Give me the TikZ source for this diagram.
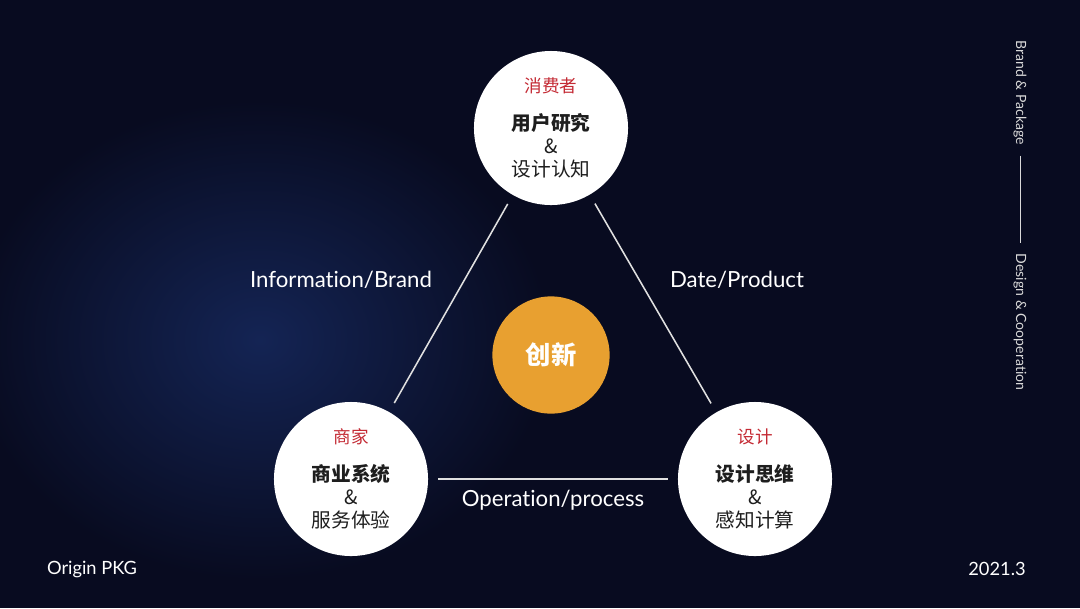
\documentclass[tikz,border=0pt]{standalone}
\usepackage{fontspec}
\setmainfont[Ligatures=NoCommon]{Lato}
\newfontfamily\cjk{Noto Sans CJK SC}
\usetikzlibrary{positioning}
\definecolor{bgnavy}{RGB}{8,11,32}
\definecolor{glow}{RGB}{20,36,84}
\definecolor{redtxt}{RGB}{196,42,52}
\definecolor{orng}{RGB}{232,160,48}
\definecolor{ink}{RGB}{30,30,30}
\newcommand{\role}[1]{{\color{redtxt}\fontsize{12.5}{15}\selectfont #1}\\[10pt]}

\begin{document}
\begin{tikzpicture}[x=0.025cm,y=-0.025cm,semithick]
 \tikzstyle{vert}=[circle, fill=white, inner sep=0pt, minimum size=3.85cm, align=center, text=ink,
   font=\cjk\fontsize{14}{16.5}\selectfont]
 \tikzstyle{core}=[circle, fill=orng, inner sep=0pt, minimum size=2.93cm, text=white,
   font=\cjk\bfseries\fontsize{18}{20}\selectfont]
 \tikzstyle{link}=[draw=white!88!black, line width=1.1pt, shorten >=10*0.025cm, shorten <=10*0.025cm]
 \tikzstyle{lbl}=[text=white, font=\fontsize{15.8}{18}\selectfont]
 \tikzstyle{side}=[text=white!85!black, font=\fontsize{10}{11}\selectfont, rotate=-90, inner sep=0pt]
 \tikzstyle{corner}=[text=white, font=\fontsize{13}{15}\selectfont]
   % background
   \useasboundingbox (0,0) rectangle (1080,608);
   \fill[bgnavy] (0,0) rectangle (1080,608);
   \shade[inner color=glow, outer color=bgnavy] (260,340) ellipse [x radius=290, y radius=240];
   % the three parties
   \node[vert] (C) at (551,128) {\role{消费者}\textbf{用户研究}\\\&\\设计认知};
   \node[vert] (M) at (351,479) {\role{商家}\textbf{商业系统}\\\&\\服务体验};
   \node[vert] (D) at (755,479) {\role{设计}\textbf{设计思维}\\\&\\感知计算};
   \node[core] (X) at (551,355) {创新};
   \path[link]
     (C) edge (M)
     (C) edge (D)
     (M) edge (D);
   % edge labels
   \node[lbl] (ib) at (341,280) {Information/Brand};
   \node[lbl] (dp) at (737,280) {Date/Product};
   \node[lbl] (op) at (553,500) {Operation/process};
   % side and corners
   \node[side] (bp) at (1020,93) {Brand \& Package};
   \node[side] (dc) at (1020,322) {Design \& Cooperation};
   \draw[white!85!black, line width=0.6pt, shorten >=10*0.025cm, shorten <=10*0.025cm] (bp) -- (dc);
   \node[corner] (org) at (92,569) {Origin PKG};
   \node[corner] (yr) at (997,569) {2021.3};
\end{tikzpicture}
\end{document}
